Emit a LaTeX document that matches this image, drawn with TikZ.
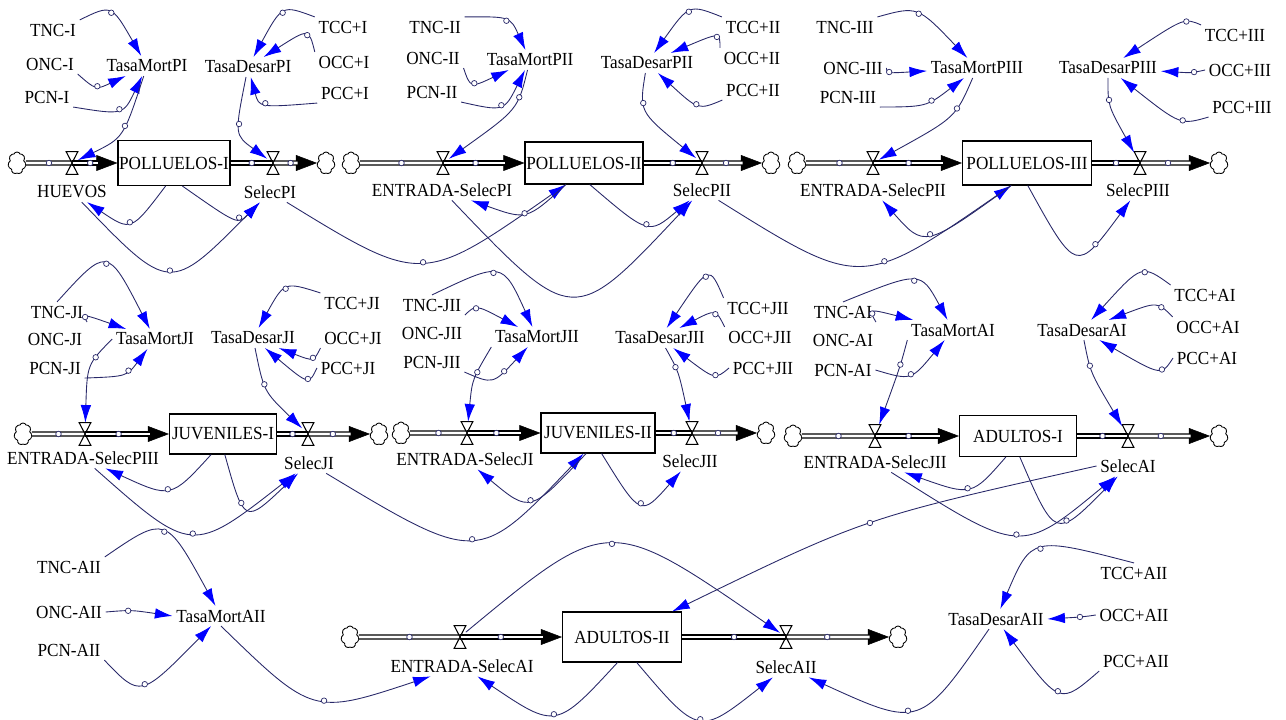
\documentclass[tikz,border=0pt]{standalone}
\usepackage{fontspec}
\setmainfont{Liberation Serif}[FakeStretch=0.93]
\usepackage{tikz}
\usetikzlibrary{calc,arrows.meta,shapes.symbols}
\definecolor{lnkc}{RGB}{40,40,105}
% conector curvo: [pos del circulo]{desde}{punto de paso}{hasta}
\newcommand\lnk[4][.5]{\draw[link] (#2) .. controls ($1.3333*(#3)-0.1667*(#2)-0.1667*(#4)$) .. (#4) node[hole,pos=#1]{};}
\begin{document}
\begin{tikzpicture}[x=0.02cm,y=-0.02cm,font=\fontsize{10.5}{12}\selectfont,
    aux/.style={inner sep=2pt},
    stock/.style={draw,fill=white,line width=.6pt,inner sep=0pt},
    valve/.style={inner sep=0pt,minimum width=.22cm,minimum height=.44cm},
    sink/.style={cloud,cloud puffs=7,cloud puff arc=130,draw,line width=.5pt,inner sep=0pt,minimum width=.36cm,minimum height=.44cm},
    pipe/.style={draw=black,double=white,double distance=1.7pt,line width=.7pt},
    link/.style={draw=lnkc,line width=.5pt,-{Latex[color=blue,length=10pt,width=6pt]}},
    hole/.style={circle,draw=lnkc,fill=white,line width=.4pt,inner sep=0pt,minimum size=.11cm}]
    \useasboundingbox (0,0) rectangle (1286,720);
    % variables auxiliares
    \foreach \n/\x/\y/\t in {TNCI/53/30/TNC-I,ONCI/50/64/ONC-I,PCNI/47/97/PCN-I,TasaMortPI/147/66/TasaMortPI,
            TasaDesarPI/248/67/TasaDesarPI,TCCI/343/27/TCC+I,OCCI/344/62/OCC+I,PCCI/345/93/PCC+I,
            TNCII/435/27/TNC-II,ONCII/433/58/ONC-II,PCNII/432/92/PCN-II,TasaMortPII/530/60/TasaMortPII,
            TasaDesarPII/647/63/TasaDesarPII,TCCII/753/27/TCC+II,OCCII/752/58/OCC+II,PCCII/753/90/PCC+II,
            TNCIII/845/27/TNC-III,ONCIII/853/68/ONC-III,PCNIII/848/97/PCN-III,TasaMortPIII/977/68/TasaMortPIII,
            TasaDesarPIII/1108/68/TasaDesarPIII,TCCIII/1235/35/TCC+III,OCCIII/1240/70/OCC+III,PCCIII/1242/107/PCC+III,
            TNCJI/57/312/TNC-JI,ONCJI/55/339/ONC-JI,PCNJI/55/368/PCN-JI,TasaMortJI/155/339/TasaMortJI,
            TasaDesarJI/253/338/TasaDesarJI,TCCJI/352/303/TCC+JI,OCCJI/353/338/OCC+JI,PCCJI/348/368/PCC+JI,
            TNCJII/432/305/TNC-JII,ONCJII/432/333/ONC-JII,PCNJII/432/362/PCN-JII,TasaMortJII/537/337/TasaMortJII,
            TasaDesarJII/660/338/TasaDesarJII,TCCJII/758/308/TCC+JII,OCCJII/760/337/OCC+JII,PCCJII/763/368/PCC+JII,
            TNCAI/843/312/TNC-AI,ONCAI/843/340/ONC-AI,PCNAI/843/370/PCN-AI,TasaMortAI/953/330/TasaMortAI,
            TasaDesarAI/1082/330/TasaDesarAI,TCCAI/1205/295/TCC+AI,OCCAI/1208/327/OCC+AI,PCCAI/1207/358/PCC+AI,
            TNCAII/69/567/TNC-AII,ONCAII/69/612/ONC-AII,PCNAII/69/650/PCN-AII,TasaMortAII/221/616/TasaMortAII,
            TasaDesarAII/996/619/TasaDesarAII,TCCAII/1134/573/TCC+AII,OCCAII/1134/615/OCC+AII,PCCAII/1136/661/PCC+AII}
        \node[aux] (\n) at (\x,\y) {\t};
    % niveles
    \foreach \n/\x/\y/\w/\h/\t in {POLLUELOSI/174/163/112/45/POLLUELOS-I,POLLUELOSII/584/163/118/42/POLLUELOS-II,
            POLLUELOSIII/1027/163/129/44/POLLUELOS-III,JUVENILESI/223/434/107/40/JUVENILES-I,
            JUVENILESII/598/433/114/40/JUVENILES-II,ADULTOSI/1018/436/117/41/ADULTOS-I,ADULTOSII/622/637/119/50/ADULTOS-II}
        \node[stock,minimum width=\w*0.02cm,minimum height=\h*0.02cm] (\n) at (\x,\y) {\t};
    % flujos (valvula + nombre)
    \foreach \n/\x/\y/\lx/\ly/\t in {HUEVOS/72/163/72/192/HUEVOS,SelecPI/273/163/270/192/SelecPI,
            EntPI/443/163/442/190/ENTRADA-SelecPI,SelecPII/702/163/702/190/SelecPII,
            EntPII/873/163/873/190/ENTRADA-SelecPII,SelecPIII/1140/163/1138/190/SelecPIII,
            EntPIII/85/434/83/458/ENTRADA-SelecPIII,SelecJI/308/434/309/463/SelecJI,
            EntJI/467/433/465/459/ENTRADA-SelecJI,SelecJII/692/433/690/461/SelecJII,
            EntJII/875/436/875/462/ENTRADA-SelecJII,SelecAI/1128/436/1128/466/SelecAI,
            EntAI/460/637/462/666/ENTRADA-SelecAI,SelecAII/786/637/786/667/SelecAII}{
        \node[valve] (v\n) at (\x,\y) {};
        \node[aux] (\n) at (\lx,\ly) {\t};}
    % nubes
    \foreach \n/\x/\y in {c1/17/163,c2/326/163,c3/351/163,c4/771/163,c5/797/163,c6/1219/163,c7/23/434,
            c8/379/434,c9/401/433,c10/766/433,c11/793/436,c12/1219/436,c13/350/637,c14/898/637}
        \node[sink] (\n) at (\x,\y) {};
    % tuberias
    \foreach \a/\f/\e in {c1/HUEVOS/POLLUELOSI,POLLUELOSI/SelecPI/c2,c3/EntPI/POLLUELOSII,POLLUELOSII/SelecPII/c4,
            c5/EntPII/POLLUELOSIII,POLLUELOSIII/SelecPIII/c6,c7/EntPIII/JUVENILESI,JUVENILESI/SelecJI/c8,
            c9/EntJI/JUVENILESII,JUVENILESII/SelecJII/c10,c11/EntJII/ADULTOSI,ADULTOSI/SelecAI/c12,
            c13/EntAI/ADULTOSII,ADULTOSII/SelecAII/c14}{
        \draw[pipe] (\a) -- (v\f.center) node[hole,pos=.5]{};
        \draw[line width=.3pt,-{Triangle[length=12pt,width=9pt]}] (v\f.center) -- (\e);
        \draw[pipe,shorten >=11pt] (v\f.center) -- (\e) node[hole,pos=.4]{};
        \draw[line width=.6pt] (v\f.north west) -- (v\f.north east) -- (v\f.south west) -- (v\f.south east) -- cycle;}
    % conectores
    \foreach \s/\hx/\hy/\e/\p in {TNCI.north east/112/14/TasaMortPI/.5,ONCI.south east/100/85/TasaMortPI/.5,
            PCNI.south east/120/108/TasaMortPI/.5,TasaMortPI/120/132/vHUEVOS/.4,
            TCCI.north west/282/14/TasaDesarPI/.5,OCCI.north west/302/36/TasaDesarPI/.4,
            PCCI.south west/265/102/TasaDesarPI/.5,TasaDesarPI/241/130/vSelecPI/.4,
            POLLUELOSI.-110/128/221/HUEVOS/.5,POLLUELOSI.-70/235/216/SelecPI/.6,HUEVOS/170/268/SelecPI/.5,
            SelecPI/421/261/POLLUELOSII.-130/.5,POLLUELOSII.-130/521/212/EntPI/.5,POLLUELOSII.-75/648/223/SelecPII/.5,
            TNCII.north east/507/22/TasaMortPII/.5,ONCII.south east/477/82/TasaMortPII/.5,
            PCNII.south east/502/104/TasaMortPII/.5,TasaMortPII/510/110/vEntPI/.3,
            TCCII.north west/688/13/TasaDesarPII/.5,OCCII.north west/711/38/TasaDesarPII/.4,
            PCCII.south west/695/103/TasaDesarPII/.5,TasaDesarPII/648/112/vSelecPII/.35,
            SelecPII/860/264/POLLUELOSIII.-125/.6,POLLUELOSIII.-125/929/233/EntPII/.5,
            POLLUELOSIII.-88/1078/252/SelecPIII/.72,
            TNCIII.north east/920/15/TasaMortPIII/.5,ONCIII.east/898/72/TasaMortPIII/.4,
            PCNIII.south east/927/102/TasaMortPIII/.6,TasaMortPIII/948/117/vEntPII/.35,
            TCCIII.north west/1177/25/TasaDesarPIII/.35,OCCIII.west/1183/72/TasaDesarPIII/.35,
            PCCIII.south west/1175/117/TasaDesarPIII/.4,TasaDesarPIII/1112/108/vSelecPIII/.35,
            TNCJI.north/107/265/TasaMortJI/.5,TNCJI.south east/92/318/TasaMortJI/.3,
            TasaMortJI.west/90/370/vEntPIII/.3,PCNJI.south east/125/372/TasaMortJI/.6,
            TCCJI.north west/285/290/TasaDesarJI/.5,OCCJI.south west/307/357/TasaDesarJI/.4,
            PCCJI.west/303/377/TasaDesarJI/.4,TasaDesarJI/268/390/vSelecJI/.4,
            JUVENILESI.-120/165/488/EntPIII/.5,JUVENILESI.-85/250/508/SelecJI/.35,EntPIII/193/531/SelecJI/.5,
            SelecJI/470/538/JUVENILESII.-125/.5,
            TNCJII.north/498/275/TasaMortJII/.45,TNCJII.south east/482/310/TasaMortJII/.4,
            TasaMortJII.south west/474/382/vEntJI/.35,PCNJII.south east/495/377/TasaMortJII/.7,
            TCCJII.north west/705/278/TasaDesarJII/.5,OCCJII.north west/710/315/TasaDesarJII/.4,
            PCCJII.west/710/373/TasaDesarJII/.4,TasaDesarJII/678/375/vSelecJII/.35,
            JUVENILESII.-120/529/499/EntJI/.5,JUVENILESII.-80/642/502/SelecJII/.5,
            TNCAI.north/915/282/TasaMortAI/.5,TNCAI.south east/880/313/TasaMortAI/.3,
            TasaMortAI.south west/898/372/vEntJII/.4,PCNAI.east/912/373/TasaMortAI/.5,
            TCCAI.north west/1138/275/TasaDesarAI/.4,OCCAI.north west/1150/307/TasaDesarAI/.3,
            PCCAI.west/1153/368/TasaDesarAI/.35,TasaDesarAI/1094/375/vSelecAI/.35,
            ADULTOSI.-120/964/487/EntJII/.5,ADULTOSI.-85/1060/520/SelecAI/.6,EntJII/1016/532/SelecAI/.5,
            SelecAI.west/870/523/ADULTOSII.27/.5,
            TNCAII.north east/165/533/TasaMortAII/.5,ONCAII.east/133/611/TasaMortAII.west/.4,
            PCNAII.south east/146/683/TasaMortAII/.5,TasaMortAII.south/320/698/EntAI/.55,
            ADULTOSII.-100/552/713/EntAI/.5,vEntAI/612/545/vSelecAII/.5,ADULTOSII.-60/702/718/SelecAII/.5,
            TasaDesarAII/913/707/SelecAII/.55,TCCAII.north/1040/550/TasaDesarAII/.5,
            OCCAII.west/1080/617/TasaDesarAII.east/.5,PCCAII.south west/1057/690/TasaDesarAII/.5}
        {\lnk[\p]{\s}{\hx,\hy}{\e}}
    \draw[link] (EntPI) .. controls ($1.3333*(573,293)-0.1667*(EntPI)-0.1667*(SelecPII)$) .. (SelecPII);
\end{tikzpicture}
\end{document}
